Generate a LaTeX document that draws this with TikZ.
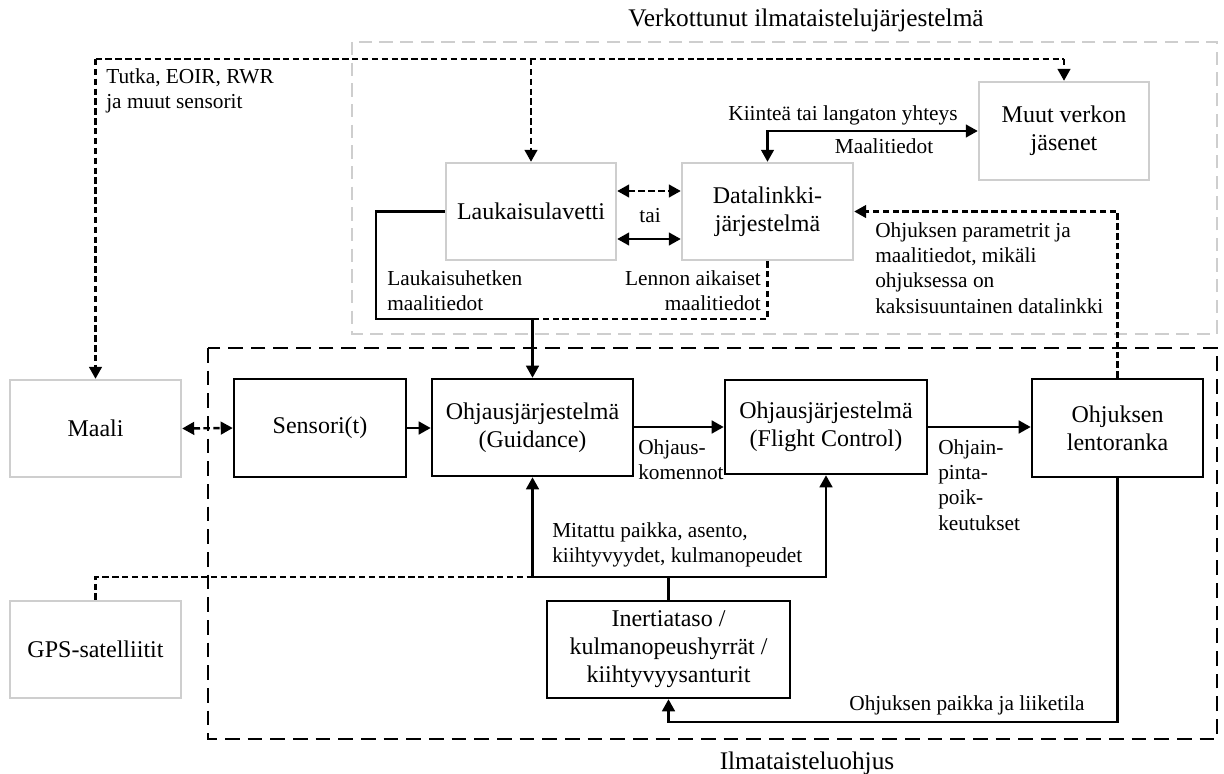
\documentclass[tikz,border=0pt]{standalone}
\usepackage{fontspec}
\setmainfont{Liberation Serif}
\usetikzlibrary{arrows.meta}
\definecolor{lgray}{RGB}{206,206,206}
\begin{document}
\begin{tikzpicture}[x=0.75pt,y=-0.75pt,
  boxfont/.style={font=\fontsize{18}{21}\selectfont},
  lblfont/.style={font=\fontsize{16}{18.6}\selectfont},
  ttlfont/.style={font=\fontsize{19}{22}\selectfont},
  sz/.style 2 args={minimum width=#1*0.75pt, minimum height=#2*0.75pt},
  gbox/.style={draw=lgray, line width=1.8pt, align=center, boxfont, inner sep=2pt},
  bbox/.style={draw=black, line width=1.9pt, align=center, boxfont, inner sep=2pt},
  conn/.style={line width=1.8pt},
  dconn/.style={line width=1.8pt, dash pattern=on 4.8pt off 2.6pt},
  arr/.style={-{Triangle[length=9pt,width=9.5pt]}},
  arrs/.style={{Triangle[length=9pt,width=9.5pt]}-{Triangle[length=9pt,width=9.5pt]}},
  lbl/.style={inner sep=0pt, lblfont, align=left},
  grayframe/.style={draw=lgray, line width=1.8pt, dash pattern=on 10pt off 5.5pt},
  blackframe/.style={draw=black, line width=1.8pt, dash pattern=on 11pt off 6pt}]
\useasboundingbox (0,0) rectangle (1224,774);

% system frames
\draw[grayframe] (352,42) rectangle (1217,334);
\node[ttlfont] (ttlnet) at (806,20) {Verkottunut ilmataistelujärjestelmä};
\draw[blackframe] (208,348) rectangle (1217,739);
\node[ttlfont] (ttlmis) at (807,763) {Ilmataisteluohjus};

% blocks
\node[gbox, sz={171}{97}] (maali) at (95.5,428.5) {Maali};
\node[gbox, sz={171}{97}] (gps) at (95.5,649.5) {GPS-satelliitit};
\node[gbox, sz={170}{97}] (lauk) at (531,211.5) {Laukaisulavetti};
\node[gbox, sz={171}{97}] (dlink) at (767.5,211.5) {Datalinkki-\\järjestelmä};
\node[gbox, sz={170}{98}] (muut) at (1064,131) {Muut verkon\\jäsenet};
\node[bbox, sz={172}{98}] (sens) at (320,428) {Sensori(t)};
\node[bbox, sz={201}{97}] (guid) at (532.5,427.5) {Ohjausjärjestelmä\\(Guidance)};
\node[bbox, sz={202}{94}] (fc) at (826,427) {Ohjausjärjestelmä\\(Flight Control)};
\node[bbox, sz={171}{98}] (lento) at (1117.5,428) {Ohjuksen\\lentoranka};
\node[bbox, sz={243}{97}] (iner) at (668.5,649.5) {Inertiataso /\\kulmanopeushyrrät /\\kiihtyvyysanturit};

% sensor network line along the top
\coordinate (netL) at (maali.north |- 0,59);
\coordinate (netR) at (muut.north |- 0,59);
\draw[dconn] (netL) -- (netR);
\draw[dconn, arr] (netL) -- (maali.north);
\draw[dconn, arr] (lauk.north |- netL) -- (lauk.north);
\draw[dconn, arr] (netR) -- (muut.north);
\node[lbl, anchor=west] (lsens) at (106,91) {Tutka, EOIR, RWR\\ja muut sensorit};

% link to other network members
\draw[conn, arrs] (muut.west) -| (dlink.north);
\node[lbl] (lyht) at (843,115) {Kiinteä tai langaton yhteys};
\node[lbl] (lmaal) at (884,146) {Maalitiedot};

% launcher <-> datalink
\draw[dconn, arrs] (lauk.east |- 0,191) -- (dlink.west |- 0,191);
\draw[conn, arrs] (lauk.east |- 0,239) -- (dlink.west |- 0,239);
\node[lbl] (ltai) at (650,216) {tai};

% target data into guidance
\coordinate (jtop) at (guid.north |- 0,319);
\draw[conn] (lauk.west) -- (376,211.5) -- (376,319) -- (jtop);
\draw[dconn] (dlink.south) |- (jtop);
\draw[conn, arr] (jtop) -- (guid.north);
\node[lbl, anchor=west] (llauk) at (387,291) {Laukaisuhetken\\maalitiedot};
\node[lbl, anchor=east, align=right] (llen) at (761,291) {Lennon aikaiset\\maalitiedot};

% missile chain
\draw[dconn, arrs] (maali.east) -- (sens.west);
\draw[conn, arr] (sens.east) -- (guid.west |- sens.east);
\draw[conn, arr] (guid.east |- 0,427) -- (fc.west |- 0,427);
\draw[conn, arr] (fc.east |- 0,427) -- (lento.west |- 0,427);
\node[lbl, anchor=west] (lohj) at (638,460) {Ohjaus-\\komennot};
\node[lbl, anchor=west, font=\fontsize{16}{19}\selectfont] (lpinta) at (938,485) {Ohjain-\\pinta-\\poik-\\keutukset};

% missile back to datalink
\draw[dconn, arr] (lento.north) |- (dlink.east);
\node[lbl, anchor=west, font=\fontsize{16}{19}\selectfont] (lpar) at (875,268) {Ohjuksen parametrit ja\\maalitiedot, mikäli\\ohjuksessa on\\kaksisuuntainen datalinkki};

% inertial measurements
\coordinate (jmeas) at (iner.north |- 0,577);
\draw[conn] (iner.north) -- (jmeas);
\draw[conn, arr] (jmeas) -| (guid.south);
\draw[conn, arr] (jmeas) -| (fc.south);
\draw[dconn] (gps.north) |- (guid.south |- jmeas);
\node[lbl, anchor=west] (lmit) at (552,545) {Mitattu paikka, asento,\\kiihtyvyydet, kulmanopeudet};

% missile state back to inertial unit
\coordinate (jbot) at (iner.south |- 0,722);
\draw[conn, arr] (lento.south) |- (jbot) -- (iner.south);
\node[lbl] (lpaik) at (967,705) {Ohjuksen paikka ja liiketila};
\end{tikzpicture}
\end{document}
